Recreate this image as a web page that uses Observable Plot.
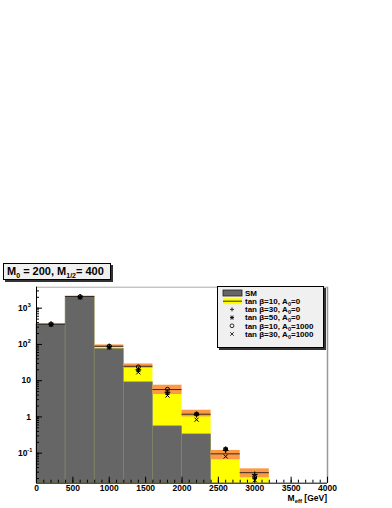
<!DOCTYPE html>
<html><head><meta charset="utf-8">
<script src="https://cdn.jsdelivr.net/npm/d3@7"></script>
<script src="https://cdn.jsdelivr.net/npm/@observablehq/plot@0.6"></script>
<style>
html,body{margin:0;padding:0;background:#fff;}
body{width:392px;height:508px;position:relative;overflow:hidden;font-family:"Liberation Sans",Arial,sans-serif;font-weight:bold;}
#chart{position:absolute;left:0;top:0;}
.box{position:absolute;background:#f0f0f0;border:1px solid #000;box-shadow:2px 2px 0 #333;box-sizing:border-box;}
#title{left:3px;top:263px;width:108px;height:17px;font-size:11px;line-height:15px;padding-left:3px;white-space:nowrap;}
#title sub{font-size:7px;vertical-align:-3px;}
#legend{left:217px;top:286px;width:107px;height:62px;}
#xlabel{position:absolute;right:65px;top:493.5px;font-size:8.5px;line-height:9px;white-space:nowrap;}
#xlabel sub{font-size:6px;vertical-align:-2px;line-height:0;}
</style></head>
<body>
<div id="chart"></div>
<div id="title" class="box">M<sub>0</sub> = 200, M<sub>1/2</sub>= 400</div>
<div id="legend" class="box"></div>
<div id="xlabel">M<sub>eff</sub> [GeV]</div>
<script>
// bins (GeV)
const binLow = [0, 400, 800, 1200, 1600, 2000, 2400, 2800];
const binHigh = [400, 800, 1200, 1600, 2000, 2400, 2800, 3200];
const binCenter = [200, 600, 1000, 1400, 1800, 2200, 2600, 3000];
// SM background
const smValues = [360, 2100, 75, 9.0, 0.55, 0.33, null, null];
// tan beta = 10, A0 = 0 (line, with error band)
const sigLine = [360, 2100, 89, 25, 5.7, 1.19, 0.096, 0.029];
const sigLow = [360, 2100, 82, 22, 4.15, 1.0, 0.066, 0.021];
const sigHigh = [360, 2100, 97, 29, 7.5, 1.53, 0.119, 0.037];
// marker series
const tb30A0 = [360, 2050, 86, 20, 4.8, 1.15, 0.12, 0.026];
const tb50A0 = [355, 2000, 84, 19, 4.5, 1.2, 0.13, 0.021];
const tb10A1000 = [365, 2080, 90, 24, 5.8, 1.2, 0.13, 0.022];
const tb30A1000 = [350, 1980, 82, 17, 3.9, 0.84, 0.081, 0.018];
// axis ticks
const xMajorTicks = [0, 500, 1000, 1500, 2000, 2500, 3000, 3500, 4000];
const yMajorTicks = [0.1, 1, 10, 100, 1000];
const yTickBase = ["10", "1", "10", "10", "10"];
const yTickExp = ["-1", "", "", "2", "3"];

const yMin = 0.01486, yMax = 3795;

const bins = binLow.map((lo, i) => ({
  lo, hi: binHigh[i], c: binCenter[i],
  sm: smValues[i], line: sigLine[i], low: sigLow[i], high: sigHigh[i]
}));
const smBins = bins.filter(d => d.sm != null);
const bandBins = bins.filter(d => d.high > d.low);

const markerSeries = [
  {vals: tb30A0, symbol: "plus", r: 2},
  {vals: tb50A0, symbol: "asterisk", r: 2.2},
  {vals: tb10A1000, symbol: "circle", r: 2},
  {vals: tb30A1000, symbol: "times", r: 2}
];

const xMinor = d3.range(0, 4001, 100);
const yMinor = [];
for (let e = -2; e <= 3; e++) for (let k = 1; k <= 9; k++) {
  const v = k * Math.pow(10, e);
  if (v >= yMin && v <= yMax) yMinor.push(v);
}

const dotMarks = markerSeries.map(s => Plot.dot(binCenter.map((c, i) => ({c, v: s.vals[i]})), {
  x: "c", y: "v", symbol: () => s.symbol, r: s.r, fill: "none", stroke: "#000", strokeWidth: 1
}));

const yLabelData = yMajorTicks.map((v, i) => ({v, base: yTickBase[i], exp: yTickExp[i]}));

const chart = Plot.plot({
  width: 392, height: 508,
  marginLeft: 36, marginRight: 65, marginTop: 286.7, marginBottom: 25.3,
  x: {domain: [0, 4000]},
  y: {type: "log", domain: [yMin, yMax]},
  symbol: {type: "identity"},
  style: {fontFamily: "'Liberation Sans', Arial, sans-serif", fontSize: "8.5px", fontWeight: "bold", background: "transparent", overflow: "visible"},
  marks: [
    Plot.rect(bins, {x1: "lo", x2: "hi", y1: () => yMin, y2: "line", fill: "#ffff00"}),
    Plot.rect(smBins, {x1: "lo", x2: "hi", y1: () => yMin, y2: "sm", fill: "#666666", stroke: "#85856a", strokeWidth: 0.6}),
    Plot.rect(bandBins, {x1: "lo", x2: "hi", y1: "low", y2: "high", fill: "#fa9a46"}),
    Plot.ruleY(bins, {x1: "lo", x2: "hi", y: "line", stroke: "#3a2a1e", strokeWidth: 1}),
    ...dotMarks,
    Plot.ruleY([yMax], {stroke: "#aaa", strokeWidth: 1}),
    Plot.ruleX([4000], {stroke: "#999", strokeWidth: 1.5}),
    Plot.axisX(xMinor, {tickSize: -3, tickFormat: () => "", label: null, stroke: "#000"}),
    Plot.axisX(xMajorTicks, {tickSize: -6, tickPadding: 8, tickFormat: d => String(d), label: null, stroke: "#000"}),
    Plot.axisY(yMinor, {tickSize: -3, tickFormat: () => "", label: null, stroke: "#000"}),
    Plot.axisY(yMajorTicks, {tickSize: -6, tickFormat: () => "", label: null, stroke: "#000"}),
    Plot.text(yLabelData.filter(d => d.exp === ""), {x: () => 0, y: "v", text: "base", textAnchor: "end", fontSize: 8.5, dx: -5.5}),
    Plot.text(yLabelData.filter(d => d.exp !== ""), {x: () => 0, y: "v", text: "base", textAnchor: "end", fontSize: 8.5, dx: -9}),
    Plot.text(yLabelData.filter(d => d.exp === "2" || d.exp === "3"), {x: () => 0, y: "v", text: "exp", textAnchor: "start", fontSize: 5.5, dx: -8.7, dy: -3}),
    Plot.text(yLabelData.filter(d => d.exp === "-1"), {x: () => 0, y: "v", text: "exp", textAnchor: "start", fontSize: 5.5, dx: -9.2, dy: -3}),
    Plot.ruleX([0], {stroke: "#000", strokeWidth: 1}),
    Plot.ruleY([yMin], {stroke: "#000", strokeWidth: 1})
  ]
});
document.getElementById("chart").appendChild(chart);

// legend
const sub0 = "A<tspan font-size='5.5' dy='2'>0</tspan><tspan dy='-2'>";
const legendEntries = [
  {kind: "sm", label: "SM"},
  {kind: "sig", label: `tan \u03B2=10, ${sub0}=0</tspan>`},
  {kind: "plus", label: `tan \u03B2=30, ${sub0}=0</tspan>`},
  {kind: "ast", label: `tan \u03B2=50, ${sub0}=0</tspan>`},
  {kind: "circ", label: `tan \u03B2=10, ${sub0}=1000</tspan>`},
  {kind: "times", label: `tan \u03B2=30, ${sub0}=1000</tspan>`}
];
let svg = `<svg width="105" height="60" xmlns="http://www.w3.org/2000/svg" style="font-family:'Liberation Sans',Arial,sans-serif;font-weight:bold;font-size:8px">`;
legendEntries.forEach((e, i) => {
  const cy = 6 + i * 8.2;
  const cx = 14;
  if (e.kind === "sm") svg += `<rect x="5" y="${cy-3}" width="19" height="6" fill="#666" stroke="#222" stroke-width="0.8"/>`;
  if (e.kind === "sig") svg += `<rect x="5" y="${cy-3}" width="19" height="6" fill="#ffff00"/><line x1="5" x2="24" y1="${cy}" y2="${cy}" stroke="#3a2a1e" stroke-width="1"/>`;
  if (e.kind === "plus") svg += `<path d="M${cx-2},${cy}h4M${cx},${cy-2}v4" stroke="#000" stroke-width="0.8"/>`;
  if (e.kind === "ast") svg += `<path d="M${cx-2},${cy}h4M${cx},${cy-2}v4M${cx-1.6},${cy-1.6}l3.2,3.2M${cx-1.6},${cy+1.6}l3.2,-3.2" stroke="#000" stroke-width="0.9"/>`;
  if (e.kind === "circ") svg += `<circle cx="${cx}" cy="${cy}" r="1.9" fill="none" stroke="#000" stroke-width="0.8"/>`;
  if (e.kind === "times") svg += `<path d="M${cx-1.8},${cy-1.8}l3.6,3.6M${cx-1.8},${cy+1.8}l3.6,-3.6" stroke="#000" stroke-width="0.8"/>`;
  svg += `<text x="27" y="${cy+2.8}">${e.label}</text>`;
});
svg += `</svg>`;
document.getElementById("legend").innerHTML = svg;
</script>
</body></html>
